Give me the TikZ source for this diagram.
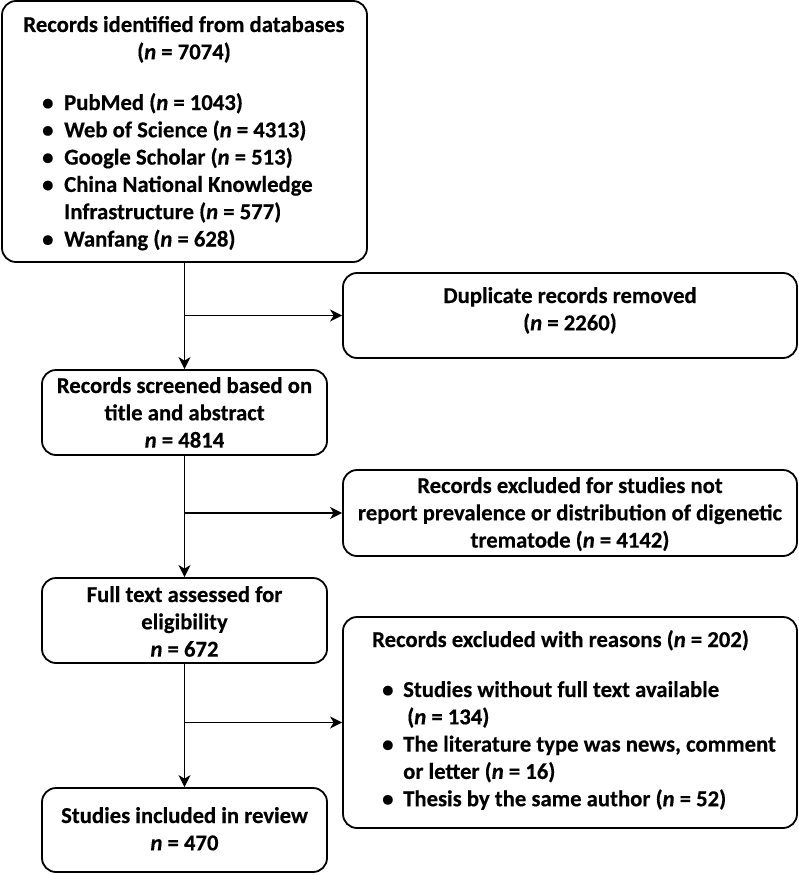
\documentclass[tikz,border=0pt]{standalone}
\usepackage{fontspec}
\setmainfont{Carlito}[BoldFeatures={FakeBold=0.4},BoldItalicFeatures={FakeBold=0.4}]
\usetikzlibrary{arrows.meta}
\begin{document}
\begin{tikzpicture}[x=1pt,y=-1pt,
  box/.style={draw, line width=1.8pt, rounded corners=14pt, inner sep=0pt},
  txt/.style={font=\fontsize{22.7}{27.3}\selectfont\bfseries, inner sep=0pt},
  conn/.style={line width=1.5pt, -{Stealth[length=12pt,width=12pt,inset=3.5pt]}},
  plain/.style={line width=1.5pt}]
\useasboundingbox (0,0) rectangle (798,875);
% boxes
\node[box, minimum width=365pt, minimum height=261pt] (b1) at (184.5,131.5) {};
\node[box, minimum width=454pt, minimum height=85pt] (dup) at (570,315.5) {};
\node[box, minimum width=285pt, minimum height=85pt] (b2) at (184.5,412.5) {};
\node[box, minimum width=454pt, minimum height=86pt] (ex1) at (570,513) {};
\node[box, minimum width=285pt, minimum height=85pt] (b3) at (184.5,620.5) {};
\node[box, minimum width=454pt, minimum height=211pt] (ex2) at (570,722.5) {};
\node[box, minimum width=285pt, minimum height=84pt] (b4) at (184.5,830) {};
% texts
\node[txt, anchor=base] (t1) at (184,32) {\begin{tabular}[t]{@{}c@{}}Records identified from databases\\(\textit{n} = 7074)\end{tabular}};
\node[txt, anchor=base west] (l1) at (42,110) {\begin{tabular}[t]{@{}p{22pt}@{}l@{}}
\textbullet & PubMed (\textit{n} = 1043)\\
\textbullet & Web of Science (\textit{n} = 4313)\\
\textbullet & Google Scholar (\textit{n} = 513)\\
\textbullet & China National Knowledge\\
 & Infrastructure (\textit{n} = 577)\\
\textbullet & Wanfang (\textit{n} = 628)
\end{tabular}};
\node[txt, anchor=base] (tdup) at (570,303) {\begin{tabular}[t]{@{}c@{}}Duplicate records removed\\(\textit{n} = 2260)\end{tabular}};
\node[txt, anchor=base] (t2) at (184.5,393) {\begin{tabular}[t]{@{}c@{}}Records screened based on\\title and abstract\\\textit{n} = 4814\end{tabular}};
\node[txt, anchor=base] (tex1) at (570,493) {\begin{tabular}[t]{@{}c@{}}Records excluded for studies not\\report prevalence or distribution of digenetic\\trematode (\textit{n} = 4142)\end{tabular}};
\node[txt, anchor=base] (t3) at (184.5,602) {\begin{tabular}[t]{@{}c@{}}Full text assessed for\\eligibility\\\textit{n} = 672\end{tabular}};
\node[txt, anchor=base west] (tex2) at (372,647) {Records excluded with reasons (\textit{n} = 202)};
\node[txt, anchor=base west] (l2) at (382,697) {\begin{tabular}[t]{@{}p{21pt}@{}l@{}}
\textbullet & Studies without full text available\\
 & \hspace{4pt}(\textit{n} = 134)\\
\textbullet & The literature type was news, comment\\
 & or letter (\textit{n} = 16)\\
\textbullet & Thesis by the same author (\textit{n} = 52)
\end{tabular}};
\node[txt, anchor=base] (t4) at (184.5,823) {\begin{tabular}[t]{@{}c@{}}Studies included in review\\\textit{n} = 470\end{tabular}};
% connectors
\coordinate (j1) at (b1.south |- dup.west);
\coordinate (j2) at (b2.south |- ex1.west);
\coordinate (j3) at (b3.south |- ex2.west);
\draw[conn] (b1.south) -- (b2.north);
\draw[conn] (b2.south) -- (b3.north);
\draw[conn] (b3.south) -- (b4.north);
\draw[conn] (j1) -- (dup.west);
\draw[conn] (j2) -- (ex1.west);
\draw[conn] (j3) -- (ex2.west);
\end{tikzpicture}
\end{document}
